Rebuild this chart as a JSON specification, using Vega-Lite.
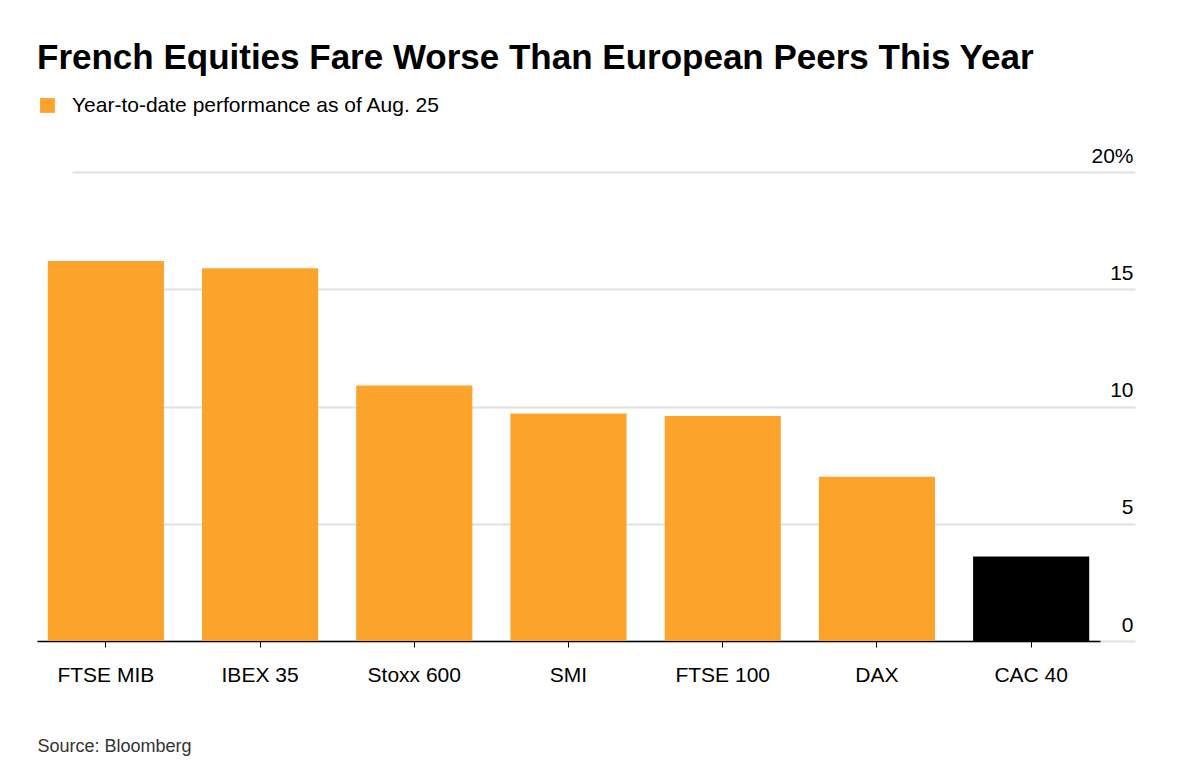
{
  "$schema": "https://vega.github.io/schema/vega-lite/v6.json",
  "width": 1098,
  "height": 469,
  "autosize": "none",
  "padding": {"left": 37, "top": 172, "right": 65, "bottom": 142},
  "background": "white",
  "config": {"font": "Liberation Sans", "view": {"stroke": null}},
  "title": {
    "text": "French Equities Fare Worse Than European Peers This Year",
    "anchor": "start",
    "frame": "group",
    "fontSize": 35,
    "fontWeight": "bold",
    "color": "#000000",
    "baseline": "alphabetic",
    "offset": -9
  },
  "data": {
    "values": [
      {"index": "FTSE MIB", "ytd": 16.2, "group": "Year-to-date performance as of Aug. 25"},
      {"index": "IBEX 35", "ytd": 15.9, "group": "Year-to-date performance as of Aug. 25"},
      {"index": "Stoxx 600", "ytd": 10.9, "group": "Year-to-date performance as of Aug. 25"},
      {"index": "SMI", "ytd": 9.7, "group": "Year-to-date performance as of Aug. 25"},
      {"index": "FTSE 100", "ytd": 9.6, "group": "Year-to-date performance as of Aug. 25"},
      {"index": "DAX", "ytd": 7.0, "group": "Year-to-date performance as of Aug. 25"},
      {"index": "CAC 40", "ytd": 3.6, "group": "CAC"}
    ]
  },
  "mark": {"type": "bar"},
  "encoding": {
    "x": {
      "field": "index",
      "type": "nominal",
      "sort": null,
      "scale": {"range": [0, 1063], "paddingInner": 0.247, "paddingOuter": 0.07},
      "title": "Source: Bloomberg",
      "axis": {
        "labelAngle": 0,
        "labelFontSize": 21,
        "labelColor": "#000000",
        "labelPadding": 17,
        "domainColor": "#000000",
        "domainWidth": 1.5,
        "tickColor": "#000000",
        "tickSize": 6,
        "titleAnchor": "start",
        "titleAlign": "left",
        "titleX": 0,
        "titleY": 96,
        "titleFontSize": 18,
        "titleFontWeight": "normal",
        "titleColor": "#333333"
      }
    },
    "y": {
      "field": "ytd",
      "type": "quantitative",
      "scale": {"domain": [0, 20]},
      "title": null,
      "axis": {
        "orient": "right",
        "values": [0, 5, 10, 15, 20],
        "labelExpr": "datum.value == 20 ? '20%' : datum.label",
        "labelAlign": "right",
        "labelBaseline": "bottom",
        "labelPadding": -2,
        "labelOffset": -6,
        "labelFontSize": 21,
        "labelColor": "#000000",
        "domain": false,
        "ticks": false,
        "gridColor": "#e0e0e0",
        "gridWidth": 2
      }
    },
    "color": {
      "field": "group",
      "type": "nominal",
      "scale": {"domain": ["Year-to-date performance as of Aug. 25", "CAC"], "range": ["#fca32c", "#000000"]},
      "legend": {
        "values": ["Year-to-date performance as of Aug. 25"],
        "title": null,
        "orient": "none",
        "legendX": 0,
        "legendY": -77,
        "symbolType": "square",
        "symbolSize": 220,
        "symbolOpacity": 1,
        "labelFontSize": 21,
        "labelLimit": 600,
        "labelColor": "#000000",
        "labelOffset": 14
      }
    }
  }
}
